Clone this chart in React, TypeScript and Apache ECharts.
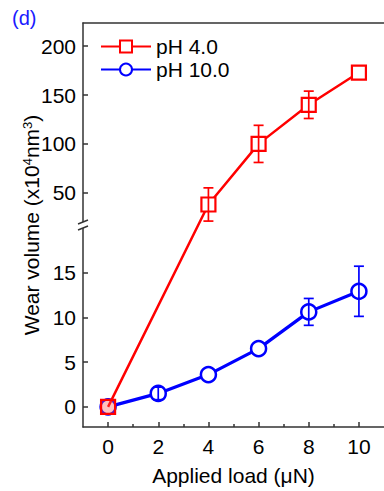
import React, { useEffect, useRef } from "react";
import * as echarts from "echarts";

// ---- data ----
const PH4_LOAD = [0, 4, 6, 8, 10];
const PH4_VOLUME = [0, 38, 100, 140, 173];
const PH4_ERROR = [0, 17, 19, 14, 0];

const PH10_LOAD = [0, 2, 4, 6, 8, 10];
const PH10_VOLUME = [0, 1.5, 3.6, 6.5, 10.6, 12.9];
const PH10_ERROR = [0, 0.7, 0, 0, 1.5, 2.8];

const X_TICKS = [0, 2, 4, 6, 8, 10];
const X_MINOR_TICKS = [1, 3, 5, 7, 9];
const LOWER_TICKS = [0, 5, 10, 15];
const UPPER_TICKS = [50, 100, 150, 200];

// broken y axis: lower segment and upper segment (each half of the axis)
const LOWER_RANGE = [-2.25, 20.3];
const UPPER_RANGE = [17, 223.7];

const FONT = '"Liberation Sans", Arial, Helvetica, sans-serif';
const AXIS_COLOR = "#333";

function toAxis(v: number): number {
  if (v <= LOWER_RANGE[1]) {
    return (v - LOWER_RANGE[0]) / (LOWER_RANGE[1] - LOWER_RANGE[0]);
  }
  return 1 + (v - UPPER_RANGE[0]) / (UPPER_RANGE[1] - UPPER_RANGE[0]);
}
function fromAxis(t: number): number {
  if (t <= 1) return LOWER_RANGE[0] + t * (LOWER_RANGE[1] - LOWER_RANGE[0]);
  return UPPER_RANGE[0] + (t - 1) * (UPPER_RANGE[1] - UPPER_RANGE[0]);
}

const Y_TICK_POS = [...LOWER_TICKS, ...UPPER_TICKS].map(toAxis);

export default function App() {
  const ref = useRef<HTMLDivElement>(null);

  useEffect(() => {
    if (!ref.current) return;
    const chart = echarts.init(ref.current, null, { renderer: "svg" });

    const ph4Data = PH4_LOAD.map((x, i) => {
      const item: any = { value: [x, toAxis(PH4_VOLUME[i])] };
      if (PH4_VOLUME[i] === 0) {
        item.itemStyle = { color: "rgba(255,80,80,0.35)" };
      }
      return item;
    });
    const ph10Data = PH10_LOAD.map((x, i) => [x, toAxis(PH10_VOLUME[i])]);

    const ph4Err = PH4_LOAD.map((x, i) => [
      x,
      toAxis(PH4_VOLUME[i] - PH4_ERROR[i]),
      toAxis(PH4_VOLUME[i] + PH4_ERROR[i]),
    ]).filter((_, i) => PH4_ERROR[i] > 0);
    const ph10Err = PH10_LOAD.map((x, i) => [
      x,
      toAxis(PH10_VOLUME[i] - PH10_ERROR[i]),
      toAxis(PH10_VOLUME[i] + PH10_ERROR[i]),
    ]).filter((_, i) => PH10_ERROR[i] > 0);

    const errRender = (color: string) => (params: any, api: any) => {
      const x = api.value(0);
      const lo = api.coord([x, api.value(1)]);
      const hi = api.coord([x, api.value(2)]);
      const w = 5;
      const style = { stroke: color, lineWidth: 1.7, fill: "none" };
      return {
        type: "group",
        children: [
          { type: "line", shape: { x1: lo[0], y1: lo[1], x2: hi[0], y2: hi[1] }, style },
          { type: "line", shape: { x1: lo[0] - w, y1: lo[1], x2: lo[0] + w, y2: lo[1] }, style },
          { type: "line", shape: { x1: hi[0] - w, y1: hi[1], x2: hi[0] + w, y2: hi[1] }, style },
        ],
      };
    };

    const xBase = {
      type: "value",
      min: -1,
      max: 11,
      gridIndex: 0,
      splitLine: { show: false },
    };

    chart.setOption({
      animation: false,
      backgroundColor: "#fff",
      textStyle: { fontFamily: FONT },
      grid: { left: 83, right: -7, top: 23, bottom: 63, containLabel: false },
      legend: {
        orient: "vertical",
        left: 95,
        top: 31,
        itemWidth: 50,
        itemHeight: 15,
        itemGap: 2,
        textStyle: { fontSize: 21, color: "#000", fontFamily: FONT },
        data: ["pH 4.0", "pH 10.0"],
      },
      xAxis: [
        {
          ...xBase,
          position: "bottom",
          axisLine: { show: true, onZero: false, lineStyle: { color: AXIS_COLOR, width: 1.5 } },
          axisTick: {
            show: true,
            inside: true,
            length: 5,
            customValues: X_TICKS,
            lineStyle: { color: AXIS_COLOR, width: 1.5 },
          },
          axisLabel: {
            customValues: X_TICKS,
            fontSize: 21,
            color: "#000",
            margin: 9,
            fontFamily: FONT,
          },
          name: "Applied load (μN)",
          nameLocation: "middle",
          nameGap: 38,
          nameTextStyle: { fontSize: 21, color: "#000", fontFamily: FONT },
        },
        {
          ...xBase,
          position: "bottom",
          axisLine: { show: false, onZero: false },
          axisTick: {
            show: true,
            inside: true,
            length: 3,
            customValues: X_MINOR_TICKS,
            lineStyle: { color: AXIS_COLOR, width: 1.5 },
          },
          axisLabel: { show: false },
        },
        {
          ...xBase,
          position: "top",
          axisLine: { show: true, onZero: false, lineStyle: { color: AXIS_COLOR, width: 1.5 } },
          axisTick: { show: false },
          axisLabel: { show: false },
        },
      ],
      yAxis: {
        type: "value",
        min: 0,
        max: 2,
        position: "left",
        splitLine: { show: false },
        axisLine: { show: true, onZero: false, lineStyle: { color: AXIS_COLOR, width: 1.5 } },
        axisTick: {
          show: true,
          inside: true,
          length: 5,
          customValues: Y_TICK_POS,
          lineStyle: { color: AXIS_COLOR, width: 1.5 },
        },
        axisLabel: {
          customValues: Y_TICK_POS,
          formatter: (t: number) => String(Math.round(fromAxis(t))),
          fontSize: 21,
          color: "#000",
          margin: 7,
          fontFamily: FONT,
        },
      },
      series: [
        {
          name: "pH 10.0",
          type: "line",
          data: ph10Data,
          symbol: "circle",
          symbolSize: 15,
          lineStyle: { color: "#0000ff", width: 3.2 },
          itemStyle: { color: "#fff", borderColor: "#0000ff", borderWidth: 2.5 },
          z: 2,
        },
        {
          name: "pH 4.0",
          type: "line",
          data: ph4Data,
          symbol: "rect",
          symbolSize: 14,
          lineStyle: { color: "#ff0000", width: 2.5 },
          itemStyle: { color: "#fff", borderColor: "#ff0000", borderWidth: 2.2 },
          z: 3,
        },
        {
          type: "custom",
          renderItem: errRender("#0000ff"),
          data: ph10Err,
          encode: { x: 0, y: [1, 2] },
          z: 4,
          silent: true,
        },
        {
          type: "custom",
          renderItem: errRender("#ff0000"),
          data: ph4Err,
          encode: { x: 0, y: [1, 2] },
          z: 4,
          silent: true,
        },
      ],
    });

    const breakY = chart.convertToPixel({ yAxisIndex: 0 }, 1) as number;
    const axisX = chart.convertToPixel({ xAxisIndex: 0 }, -1) as number;
    const gridTop = chart.convertToPixel({ yAxisIndex: 0 }, 2) as number;
    const gridBottom = chart.convertToPixel({ yAxisIndex: 0 }, 0) as number;

    chart.setOption({
      graphic: [
        {
          type: "text",
          left: 12,
          top: 8,
          style: { text: "(d)", fontSize: 20, fill: "#1a1aff", fontFamily: FONT },
        },
        {
          type: "text",
          x: 31,
          y: (gridTop + gridBottom) / 2,
          rotation: Math.PI / 2,
          style: {
            text: "Wear volume (x10{sup|4}nm{sup|3})",
            fontSize: 21,
            fill: "#000",
            fontFamily: FONT,
            align: "center",
            verticalAlign: "middle",
            rich: {
              sup: { fontSize: 13, verticalAlign: "top", fill: "#000", fontFamily: FONT },
            },
          },
        },
        {
          type: "rect",
          shape: { x: axisX - 2, y: breakY - 3, width: 4, height: 6 },
          style: { fill: "#fff" },
          z: 100,
        },
        {
          type: "line",
          shape: { x1: axisX - 5, y1: breakY - 1, x2: axisX + 5, y2: breakY - 5 },
          style: { stroke: AXIS_COLOR, lineWidth: 1.5 },
          z: 101,
        },
        {
          type: "line",
          shape: { x1: axisX - 5, y1: breakY + 5, x2: axisX + 5, y2: breakY + 1 },
          style: { stroke: AXIS_COLOR, lineWidth: 1.5 },
          z: 101,
        },
      ],
    });

    return () => chart.dispose();
  }, []);

  return (
    <div
      ref={ref}
      style={{ position: "fixed", left: 0, top: 0, width: 384, height: 491, background: "#fff" }}
    />
  );
}
